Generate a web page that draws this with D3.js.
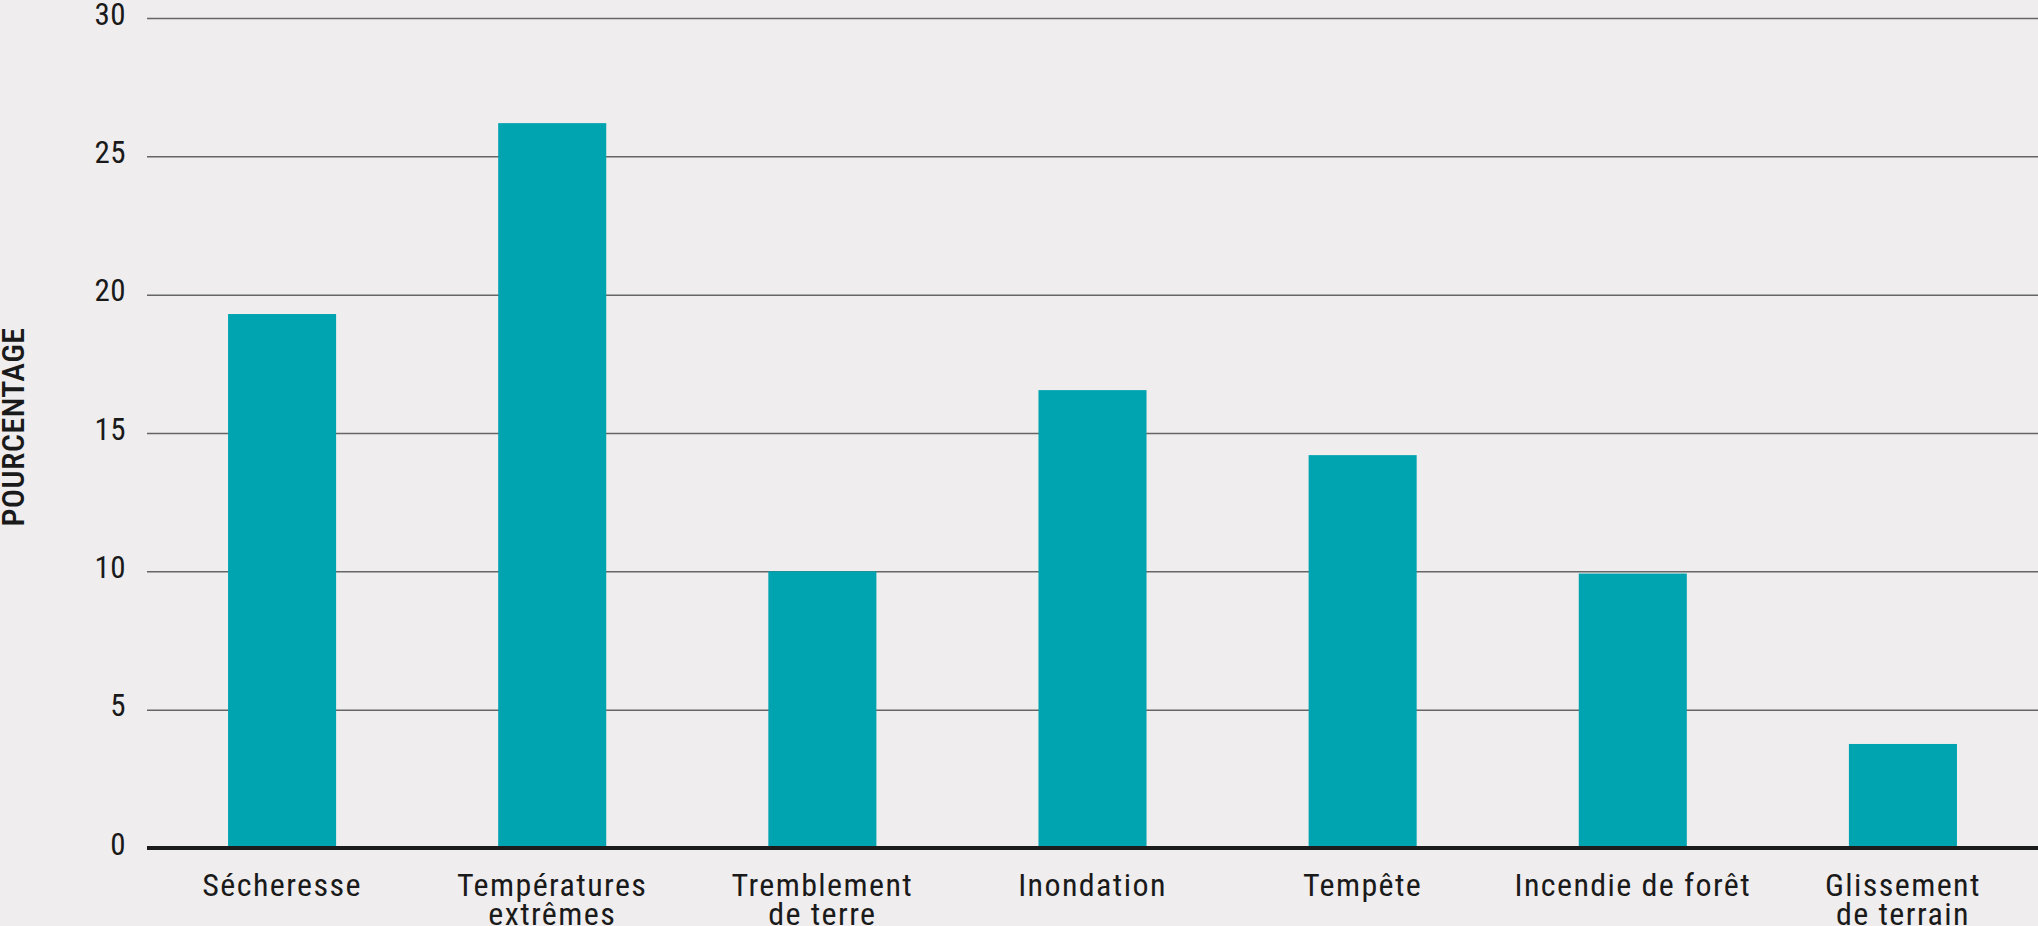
<!DOCTYPE html>
<html><head><meta charset="utf-8">
<script src="https://cdn.jsdelivr.net/npm/d3@7"></script>
<style>
html,body{margin:0;padding:0;background:#EFEDEE;overflow:hidden;}
text{font-family:"Roboto Condensed","Roboto",sans-serif;fill:#1a1a1a;}
</style></head>
<body><svg id="c" width="2038" height="926"></svg>
<script>
const categories = [["Sécheresse"],["Températures","extrêmes"],["Tremblement","de terre"],["Inondation"],["Tempête"],["Incendie de forêt"],["Glissement","de terrain"]];
const values = [19.3, 26.2, 10.0, 16.55, 14.2, 9.92, 3.76];
const yTicks = [0,5,10,15,20,25,30];
const yTitle = "POURCENTAGE";

(function(){
const W=2038,H=926;
const mLeft=147,mRight=2038,mTop=18,mBottom=848;
const svg=d3.select("#c");
svg.append("rect").attr("width",W).attr("height",H).attr("fill","#EFEDEE");

const keys = categories.map(c=>c.join(" "));
const x=d3.scaleBand().domain(keys).range([mLeft,mRight]).paddingInner(0.6).paddingOuter(0.3);
const y=d3.scaleLinear().domain([0,30]).range([mBottom,mTop]);

const yAxis=d3.axisLeft(y).tickValues(yTicks).tickSize(-(mRight-mLeft)).tickPadding(21);
const gy=svg.append("g").attr("transform",`translate(${mLeft},0)`).call(yAxis);
gy.select(".domain").remove();
gy.selectAll(".tick line").attr("stroke","#666").attr("stroke-width",1.5);
gy.selectAll(".tick text").attr("font-size",31).attr("dy","0.2em").attr("letter-spacing","0.5px")
  .style("font-family",'"Roboto Condensed","Roboto",sans-serif').attr("fill","#1a1a1a");

svg.append("g").selectAll("rect").data(values).join("rect")
  .attr("x",(d,i)=>x(keys[i])).attr("width",x.bandwidth())
  .attr("y",d=>y(d)).attr("height",d=>y(0)-y(d)).attr("fill","#00A4B1");

svg.append("line").attr("x1",mLeft).attr("x2",mRight).attr("y1",y(0)).attr("y2",y(0)).attr("stroke","#1c1c1c").attr("stroke-width",4);

const xl=svg.append("g");
categories.forEach((lines,i)=>{
  const cx=x(keys[i])+x.bandwidth()/2;
  const t=xl.append("text").attr("x",cx).attr("y",896)
    .attr("text-anchor","middle").attr("font-size",32).attr("letter-spacing","1.4px");
  lines.forEach((l,j)=>t.append("tspan").attr("x",cx).attr("dy",j?29:0).text(l));
});

svg.append("text").attr("transform",`translate(24,427) rotate(-90)`).attr("text-anchor","middle")
  .attr("font-size",32).attr("font-weight",500).attr("letter-spacing","0.4px").text(yTitle);
})();
</script></body></html>
